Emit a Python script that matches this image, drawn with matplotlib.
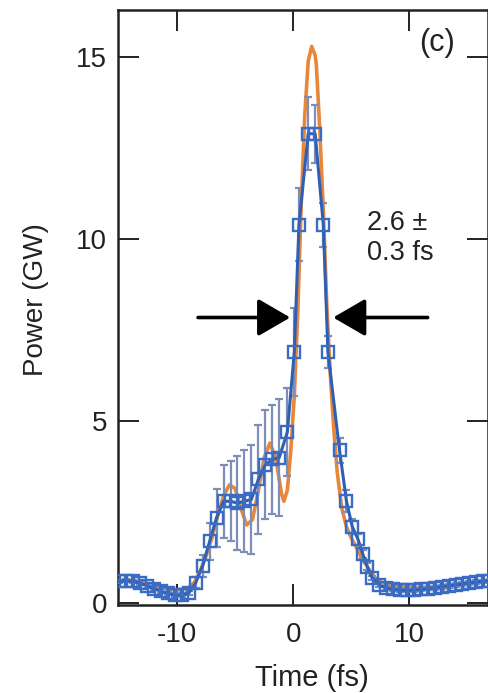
import numpy as np
import matplotlib
matplotlib.use("Agg")
import matplotlib.pyplot as plt

plt.rcParams["font.family"] = ["Liberation Sans", "DejaVu Sans"]
plt.rcParams["axes.unicode_minus"] = False

# ── measured pulse (blue squares) ─────────────────────────────────────────
t_meas = [-15.0, -14.4, -13.8, -13.2, -12.6, -12.0, -11.4, -10.8, -10.2, -9.6,
          -9.0, -8.4, -7.8, -7.2, -6.6, -6.0, -5.4, -4.8, -4.2, -3.6,
          -3.0, -2.4, -1.8, -1.2, -0.5, 0.1, 0.5, 1.3, 1.9, 2.6,
          3.0, 4.0, 4.6, 5.1, 5.6, 6.0, 6.4, 6.8, 7.4, 8.0,
          8.6, 9.2, 9.8, 10.4, 11.0, 11.6, 12.2, 12.8, 13.4, 14.0,
          14.6, 15.2, 15.8, 16.4, 17.0]
p_meas = [0.60, 0.62, 0.60, 0.55, 0.48, 0.40, 0.33, 0.27, 0.22, 0.22,
          0.28, 0.56, 1.03, 1.70, 2.35, 2.80, 2.80, 2.75, 2.80, 2.85,
          3.40, 3.80, 3.95, 4.00, 4.70, 6.90, 10.40, 12.90, 12.90, 10.40,
          6.90, 4.20, 2.80, 2.10, 1.75, 1.35, 1.00, 0.70, 0.50, 0.42,
          0.38, 0.36, 0.35, 0.36, 0.38, 0.40, 0.42, 0.45, 0.48, 0.50,
          0.53, 0.56, 0.58, 0.60, 0.62]
p_err = [0.05, 0.05, 0.05, 0.05, 0.05, 0.05, 0.05, 0.05, 0.05, 0.05,
         0.05, 0.15, 0.30, 0.50, 0.80, 1.00, 1.10, 1.30, 1.40, 1.50,
         1.50, 1.50, 1.50, 1.60, 1.20, 1.20, 1.00, 1.00, 0.80, 0.60,
         0.45, 0.35, 0.30, 0.20, 0.15, 0.10, 0.10, 0.05, 0.05, 0.05,
         0.05, 0.05, 0.05, 0.05, 0.05, 0.05, 0.05, 0.05, 0.05, 0.05,
         0.05, 0.05, 0.05, 0.05, 0.05]

# ── reconstructed pulse (orange curve) ────────────────────────────────────
t_fit = [-15.0, -14.0, -13.0, -12.0, -11.0, -10.0, -9.0, -8.5, -8.0, -7.5,
         -7.0, -6.5, -6.0, -5.5, -5.0, -4.5, -4.0, -3.5, -3.0, -2.5,
         -2.0, -1.5, -1.0, -0.8, -0.5, -0.2, 0.1, 0.4, 0.7, 1.0,
         1.3, 1.6, 1.9, 2.0, 2.3, 2.6, 2.9, 3.2, 3.5, 3.8,
         4.2, 4.6, 5.0, 5.5, 6.0, 6.5, 7.0, 7.5, 8.5, 9.5,
         10.5, 11.5, 12.5, 13.5, 14.5, 15.5, 16.5, 17.0]
p_fit = [0.60, 0.62, 0.58, 0.48, 0.40, 0.36, 0.42, 0.58, 0.90, 1.30,
         1.80, 2.40, 2.95, 3.25, 3.15, 2.60, 2.15, 2.30, 3.10, 4.00,
         4.40, 4.00, 3.00, 2.80, 3.10, 4.20, 5.70, 8.00, 11.00, 13.40,
         14.90, 15.30, 15.05, 14.80, 13.00, 10.80, 8.20, 6.30, 4.80, 3.60,
         2.60, 2.10, 1.80, 1.50, 1.20, 0.95, 0.72, 0.58, 0.48, 0.44,
         0.43, 0.44, 0.46, 0.49, 0.52, 0.56, 0.60, 0.62]

fig = plt.figure(figsize=(4.89, 6.93), dpi=100)
ax = fig.add_axes([118 / 489, 1 - 605 / 693, 370 / 489, 595 / 693])

ax.plot(t_fit, p_fit, color="#e8873a", lw=2.6, zorder=2)
ax.errorbar(t_meas, p_meas, yerr=p_err, fmt="none", ecolor="#7d8fb8",
            elinewidth=1.6, capsize=3, capthick=1.6, zorder=3)
ax.plot(t_meas, p_meas, color="#2f5fb3", lw=2.2, marker="s", ms=8.5,
        mfc="none", mec="#3a6cc4", mew=1.7, zorder=4)

# FWHM arrows
arr = dict(arrowstyle="-|>,head_length=1.0,head_width=0.58", lw=2.6,
           color="black", mutation_scale=20, shrinkA=0, shrinkB=0)
ax.annotate("", xy=(-0.25, 7.85), xytext=(-8.2, 7.85), arrowprops=arr)
ax.annotate("", xy=(3.45, 7.85), xytext=(11.6, 7.85), arrowprops=arr)

ax.text(6.4, 10.8, "2.6 ±\n0.3 fs", fontsize=19.5, color="#222222",
        va="top", ha="left", linespacing=1.2)
ax.text(10.9, 15.4, "(c)", fontsize=22, color="#222222", ha="left", va="center")

ax.set_xlim(-15.1, 16.8)
ax.set_ylim(-0.05, 16.3)
ax.set_xticks([-10, 0, 10])
ax.set_yticks([0, 5, 10, 15])
ax.tick_params(direction="in", length=15, width=1.4, top=True, right=True,
               labelsize=20, colors="#222222")
ax.tick_params(axis="x", pad=12)
ax.tick_params(axis="y", pad=8)
for s in ax.spines.values():
    s.set_linewidth(1.8)
    s.set_color("#222222")

ax.set_xlabel("Time (fs)", fontsize=21, color="#222222")
ax.set_ylabel("Power (GW)", fontsize=20, color="#222222")
ax.xaxis.set_label_coords(0.524, -0.1)
ax.yaxis.set_label_coords(-0.186, 0.513)

fig.savefig("out.png", dpi=100, facecolor="white")
